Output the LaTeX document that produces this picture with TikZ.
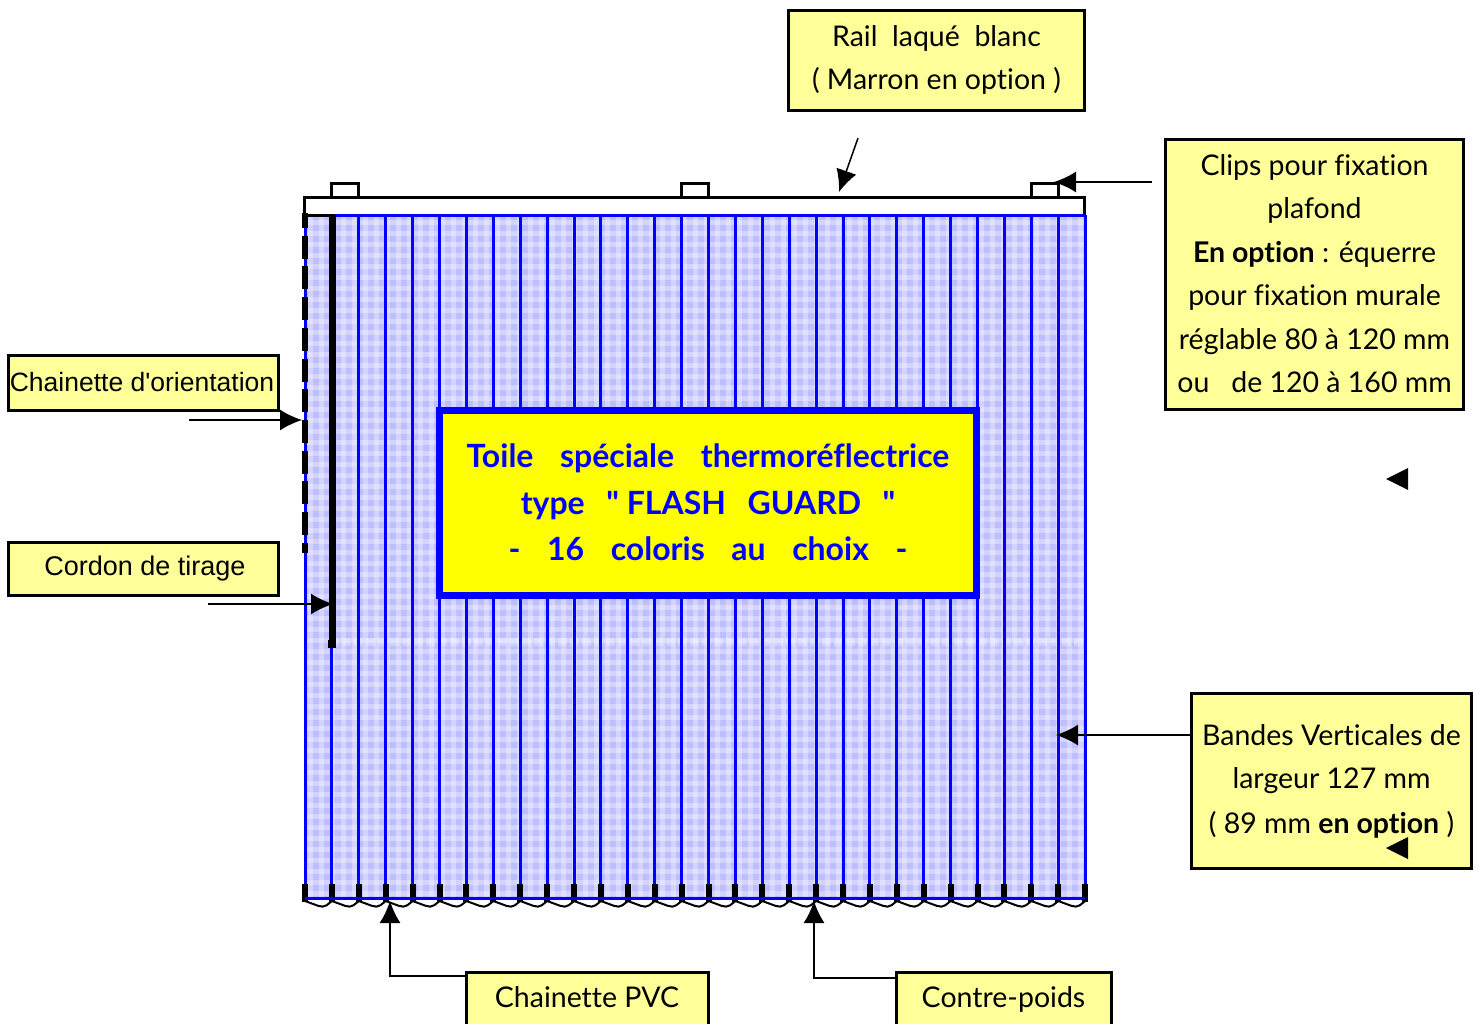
\documentclass[tikz,border=0pt]{standalone}
\usepackage{fontspec}
\setmainfont{Lato}[Ligatures={NoCommon}]
\newfontfamily\arialfont{Liberation Sans}
\newfontfamily\quotefont{Lato}
\usetikzlibrary{arrows.meta}
\tikzset{
    notebox/.style={draw=black, line width=3pt, fill=noteyellow, align=center, inner sep=0pt, font=\notefont},
    pointer/.style={draw=black, line width=1.5pt, -{Latex[length=22pt,width=21pt]}},
    slat/.style={draw=slatblue, line width=3pt}
}
\newcommand{\notefont}{\fontsize{28.5}{43.5}\selectfont}
\newcommand{\titlefont}{\fontsize{32}{46.5}\selectfont\bfseries\color{slatblue}}
\newcommand{\bigap}{\ \ \hspace{11pt}}
\newcommand{\smallgap}{\ \ \hspace{6pt}}
\begin{document}
\begin{tikzpicture}[x=1pt, y=-1pt]
    % Define colors
    \definecolor{noteyellow}{RGB}{255,255,153}
    \definecolor{signyellow}{RGB}{255,255,0}
    \definecolor{slatblue}{RGB}{0,0,255}
    \definecolor{clothblue}{RGB}{190,190,255}

    \useasboundingbox (0,0) rectangle (1479,1023);
    \clip (0,0) rectangle (1479,1023);

    % Draw the cloth with its plaid
    \fill[clothblue] (305,215) rectangle (1085,899);
    \foreach \px in {0,...,70} {
        \fill[white, opacity=0.33] ({308+11*\px},215) rectangle ({313+11*\px},899);
    }
    \foreach \py in {0,...,61} {
        \fill[white, opacity=0.33] (305,{220+11*\py}) rectangle (1085,{225+11*\py});
    }
    \draw[white, opacity=0.3, line width=8pt, dash pattern=on 9pt off 3pt] (330,642) -- (1085,642);

    % Draw the slats with weights and chain
    \foreach \i in {0,...,29} {
        \draw[slat] ({305+26.9*\i},215) -- ({305+26.9*\i},899);
        \fill[black] ({302+26.9*\i},884) rectangle ({308+26.9*\i},902);
    }
    \draw[slatblue, line width=3pt] (305,898) -- (1085,898);
    \foreach \i in {0,...,28} {
        \draw[black, line width=2pt, rounded corners=2pt]
            ({305+26.9*\i},901) -- ({320+26.9*\i},906.5) -- ({325+26.9*\i},906.5) -- ({332+26.9*\i},901);
    }

    % Rail and clips
    \draw[black, line width=3pt, fill=white] (304.5,197.5) rectangle (1084.5,215);
    \draw[slatblue, line width=3pt] (335,215) -- (1085,215);
    \foreach \cx in {331,681,1031} {
        \draw[black, line width=3pt] (\cx,197) -- (\cx,183.5) -- ({\cx+27},183.5) -- ({\cx+27},197);
    }

    % Orientation chain and pull cord
    \draw[black, line width=6.5pt, dash pattern=on 23pt off 7.7pt, dash phase=8pt] (305,213) -- (305,553);
    \draw[black, line width=7pt] (332,215) -- (332,642);
    \fill[black] (328,640) rectangle (336,648);

    % Central label
    \node[draw=slatblue, line width=7pt, fill=signyellow, align=center, inner sep=0pt,
          minimum width=537pt, minimum height=185pt, font=\titlefont] (toile) at (708,502.5)
        {Toile\bigap spéciale\bigap thermoréflectrice\\
         type\smallgap{\quotefont"} FLASH\smallgap GUARD\smallgap{\quotefont"}\\
         -\bigap 16\bigap coloris\bigap au\bigap choix\bigap -};

    % Notes around the blind
    \node[notebox, minimum width=296pt, minimum height=100pt] (rail) at (936.5,60)
        {\raisebox{-2pt}{Rail\ \ laqué\ \ blanc}\\\raisebox{-2pt}{( Marron en option )}};
    \node[notebox, minimum width=298pt, minimum height=270pt, text depth=2.5pt] (clips) at (1314.5,274.5)
        {Clips pour fixation\\plafond\\\textbf{En option} : équerre\\pour fixation murale\\réglable 80 à 120 mm\\ou\ \ \ de 120 à 160 mm};
    \node[notebox, minimum width=270pt, minimum height=55pt, font=\arialfont\fontsize{26.5}{32}\selectfont] (orient) at (143,382.5)
        {\raisebox{2pt}{Chainette d'orientation}\hspace{2pt}};
    \node[notebox, minimum width=270pt, minimum height=53pt, font=\arialfont\fontsize{27}{32}\selectfont] (cordon) at (143,568.5)
        {\hspace{4pt}Cordon de tirage};
    \node[notebox, minimum width=280pt, minimum height=175pt] (bandes) at (1331.5,781)
        {Bandes Verticales de\\largeur 127 mm\\\raisebox{-1pt}{( 89 mm \textbf{en option} )}};
    \node[notebox, anchor=north, minimum width=242pt, text height=29pt, text depth=38pt, inner ysep=6pt] (pvc) at (587,971)
        {Chainette PVC};
    \node[notebox, anchor=north, minimum width=215pt, text height=29pt, text depth=38pt, inner ysep=6pt] (poids) at (1003.5,971)
        {Contre-poids};

    % Free ends of the pointers
    \coordinate (railfrom) at (858,138);
    \coordinate (railto) at (839,192);
    \coordinate (clipfrom) at (1152,182);
    \coordinate (clipto) at (1054,182);
    \coordinate (orientfrom) at (189,420);
    \coordinate (orientto) at (302,420);
    \coordinate (cordonfrom) at (208,604);
    \coordinate (cordonto) at (333,604);
    \coordinate (bandesto) at (1056,735);
    \coordinate (pvcto) at (390,901);
    \coordinate (poidsto) at (814,901);

    % Pointers
    \draw[pointer] (railfrom) -- (railto);
    \draw[pointer] (clipfrom) -- (clipto);
    \draw[pointer] (orientfrom) -- (orientto);
    \draw[pointer] (cordonfrom) -- (cordonto);
    \draw[pointer] (bandes.west |- bandesto) -- (bandesto);
    \draw[pointer] (pvc.west |- 0,976) -| (pvcto);
    \draw[pointer] (poids.west |- 0,978) -| (poidsto);

    % Stray arrow heads
    \fill[black] (1386,479) -- (1408,468) -- (1408,490) -- cycle;
    \fill[black] (1386,848) -- (1408,837) -- (1408,859) -- cycle;
\end{tikzpicture}
\end{document}
